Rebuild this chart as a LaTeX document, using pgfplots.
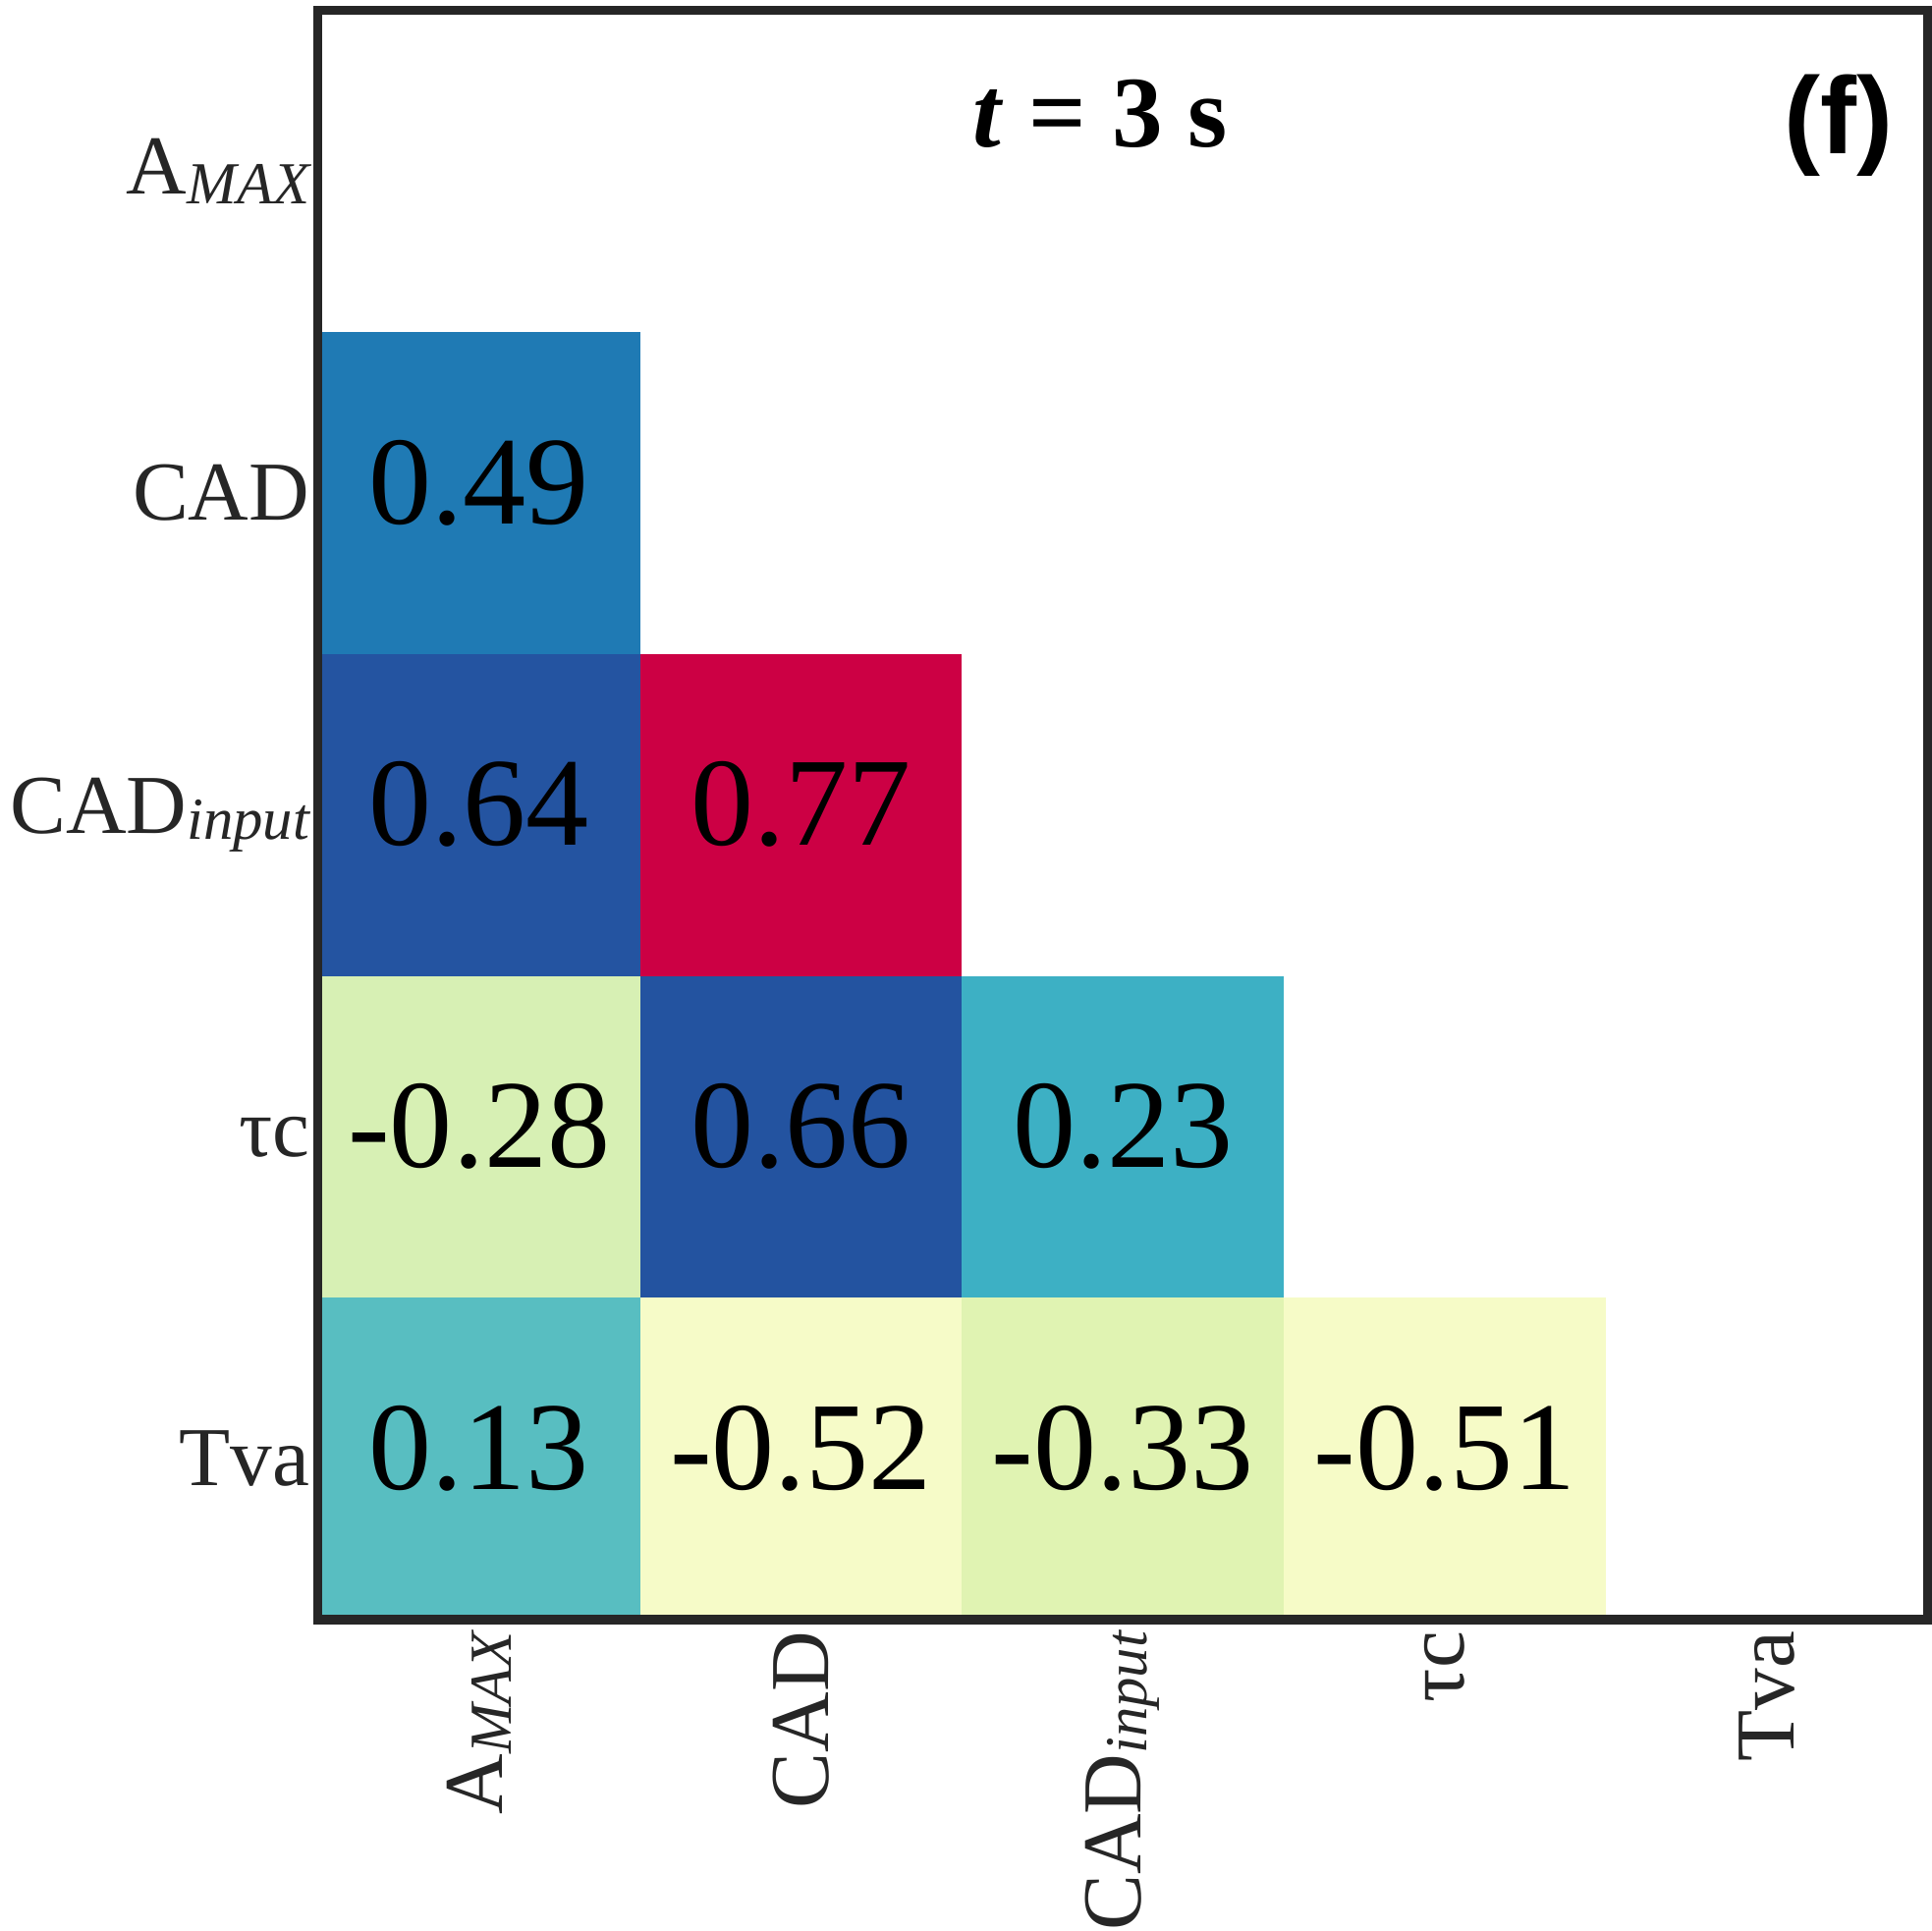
\documentclass[border=0pt]{standalone}
\usepackage{fontspec}
\setmainfont{Liberation Serif}
\newfontfamily\arialfont{Liberation Sans}
\usepackage{pgfplots}
\pgfplotsset{compat=1.18}

\definecolor{cA}{HTML}{1F7AB4}
\definecolor{cB}{HTML}{2454A1}
\definecolor{cC}{HTML}{CC0044}
\definecolor{cD}{HTML}{D7F0B4}
\definecolor{cE}{HTML}{2353A0}
\definecolor{cF}{HTML}{3DB0C4}
\definecolor{cG}{HTML}{58BEC1}
\definecolor{cH}{HTML}{F6FBC8}
\definecolor{cI}{HTML}{E0F3B2}
\definecolor{cJ}{HTML}{F6FBC7}
\definecolor{framec}{HTML}{262626}

\newcommand{\lbl}{\fontsize{21.5}{24}\selectfont}
\newcommand{\Amax}{A\raisebox{-2.4pt}{\fontsize{15.3}{16}\selectfont\itshape MAX}}
\newcommand{\CADin}{CAD\raisebox{-1.5pt}{\fontsize{15.3}{16}\selectfont\itshape input}}

\pgfplotstableread{
x y label
0 1 0.49
0 2 0.64
1 2 0.77
0 3 -0.28
1 3 0.66
2 3 0.23
0 4 0.13
1 4 -0.52
2 4 -0.33
3 4 -0.51
}\corr

\begin{document}
\begin{tikzpicture}
\begin{axis}[
  width=413pt, height=413pt, scale only axis,
  xmin=-0.5, xmax=4.5, ymin=-0.5, ymax=4.5, y dir=reverse,
  axis on top,
  axis line style={color=framec, line width=2.3pt},
  xtick={0,1,2,3,4}, ytick={0,1,2,3,4},
  xticklabels={\Amax, CAD, \CADin, τc, Tva},
  yticklabels={\Amax, CAD, \CADin, τc, Tva},
  major tick length=0pt,
  tick label style={font=\lbl, text=framec},
  xticklabel style={rotate=90, anchor=east, inner sep=0pt},
  yticklabel style={anchor=east, inner sep=0pt},
  xticklabel shift=2.8pt,
  yticklabel shift=2.0pt,
  clip=false,
]
\addplot[fill=cA, draw=none] coordinates {(-0.5,0.5) (0.5,0.5) (0.5,1.5) (-0.5,1.5)} -- cycle;
\addplot[fill=cB, draw=none] coordinates {(-0.5,1.5) (0.5,1.5) (0.5,2.5) (-0.5,2.5)} -- cycle;
\addplot[fill=cC, draw=none] coordinates {(0.5,1.5) (1.5,1.5) (1.5,2.5) (0.5,2.5)} -- cycle;
\addplot[fill=cD, draw=none] coordinates {(-0.5,2.5) (0.5,2.5) (0.5,3.5) (-0.5,3.5)} -- cycle;
\addplot[fill=cE, draw=none] coordinates {(0.5,2.5) (1.5,2.5) (1.5,3.5) (0.5,3.5)} -- cycle;
\addplot[fill=cF, draw=none] coordinates {(1.5,2.5) (2.5,2.5) (2.5,3.5) (1.5,3.5)} -- cycle;
\addplot[fill=cG, draw=none] coordinates {(-0.5,3.5) (0.5,3.5) (0.5,4.5) (-0.5,4.5)} -- cycle;
\addplot[fill=cH, draw=none] coordinates {(0.5,3.5) (1.5,3.5) (1.5,4.5) (0.5,4.5)} -- cycle;
\addplot[fill=cI, draw=none] coordinates {(1.5,3.5) (2.5,3.5) (2.5,4.5) (1.5,4.5)} -- cycle;
\addplot[fill=cJ, draw=none] coordinates {(2.5,3.5) (3.5,3.5) (3.5,4.5) (2.5,4.5)} -- cycle;

\addplot[draw=none, mark=none, nodes near coords, point meta=explicit symbolic,
  nodes near coords style={anchor=center, inner sep=0pt, text=black,
    font=\fontsize{32.3}{34}\selectfont, yshift=2.7pt}]
  table[x=x, y=y, meta=label] {\corr};

\node[anchor=base, font=\fontsize{26}{30}\selectfont\bfseries] at (axis cs:1.93,-0.076) {\textit{t} = 3 s};
\node[anchor=base east, inner sep=0pt, font=\arialfont\fontsize{28}{30}\selectfont\bfseries] at (axis cs:4.396,-0.055) {(f)};
\end{axis}
\path ([xshift=-2.6pt]current bounding box.west) -- (current bounding box.center);
\path ([yshift=1.5pt]current bounding box.north) -- (current bounding box.center);
\end{tikzpicture}
\end{document}
